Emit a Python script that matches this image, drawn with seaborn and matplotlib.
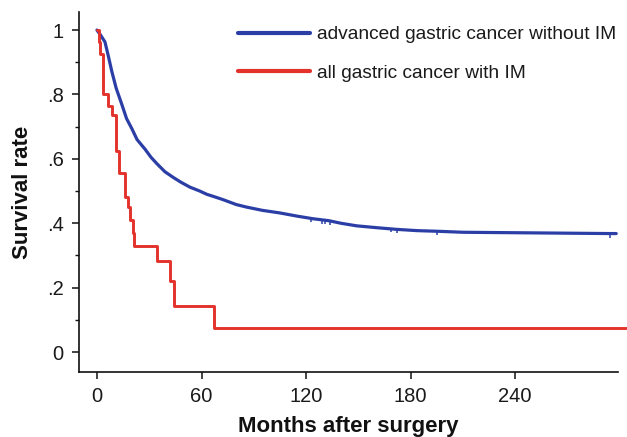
import matplotlib
matplotlib.use("Agg")
import matplotlib.pyplot as plt
from matplotlib.ticker import MultipleLocator, FixedLocator
import seaborn as sns
import pandas as pd

# Kaplan-Meier survival, advanced gastric cancer without IM (months, survival)
blue_months = [0, 2, 4.6, 6.5, 8.6, 11, 14.4, 17, 20.1, 23, 27.6, 31, 34.4, 39,
               43.6, 48, 53.4, 59, 63, 67, 72, 80, 86, 95, 105, 115, 124, 133,
               140, 149, 161, 172, 184, 196, 210, 294.5, 298]
blue_surv = [1.0, 0.985, 0.963, 0.92, 0.87, 0.82, 0.767, 0.725, 0.693, 0.66,
             0.63, 0.605, 0.585, 0.56, 0.543, 0.528, 0.512, 0.50, 0.49, 0.483,
             0.474, 0.458, 0.45, 0.44, 0.432, 0.422, 0.414, 0.408, 0.40, 0.392,
             0.386, 0.381, 0.377, 0.375, 0.372, 0.368, 0.368]
# censored observations on the blue curve
blue_cens_months = [123, 129, 131, 134, 169, 172, 195, 294.5]
blue_cens_surv = [0.415, 0.411, 0.409, 0.407, 0.384, 0.381, 0.375, 0.368]

# Kaplan-Meier survival, all gastric cancer with IM (step times, survival)
red_months = [0, 1.0, 2.0, 3.3, 6.3, 8.6, 11.0, 12.5, 16.0, 17.8, 19.0, 20.5,
              21.5, 34.4, 41.9, 44.2, 67.2, 304]
red_surv = [1.0, 0.963, 0.926, 0.80, 0.764, 0.736, 0.624, 0.556, 0.48, 0.45,
            0.41, 0.37, 0.33, 0.283, 0.22, 0.143, 0.075, 0.075]

labels = ["advanced gastric cancer without IM", "all gastric cancer with IM"]
x_ticks = [0, 60, 120, 180, 240]
y_ticks = [0, 0.2, 0.4, 0.6, 0.8, 1.0]
y_tick_labels = ["0", ".2", ".4", ".6", ".8", "1"]

BLUE = "#2b3ea6"
RED = "#e3322b"

sns.set_theme(style="ticks")
plt.rcParams["font.family"] = ["Liberation Sans", "DejaVu Sans"]

fig = plt.figure(figsize=(6.27, 4.37), dpi=100)
ax = fig.add_axes([0.126, 0.1487, 0.8596, 0.8238])

blue_df = pd.DataFrame({"month": blue_months, "surv": blue_surv})
red_df = pd.DataFrame({"month": red_months, "surv": red_surv})

sns.lineplot(data=blue_df, x="month", y="surv", ax=ax, color=BLUE,
             linewidth=2.3, estimator=None, label=labels[0])
sns.lineplot(data=red_df, x="month", y="surv", ax=ax, color=RED,
             linewidth=2.1, estimator=None, drawstyle="steps-post",
             label=labels[1], clip_on=False)
ax.plot(blue_cens_months, blue_cens_surv, linestyle="none", marker=3,
        markersize=2.6, markeredgewidth=1.1, color=BLUE)

ax.set_xlim(-10.3, 299)
ax.set_ylim(-0.062, 1.056)
ax.xaxis.set_major_locator(FixedLocator(x_ticks))
ax.yaxis.set_major_locator(FixedLocator(y_ticks))
ax.set_yticklabels(y_tick_labels)
ax.yaxis.set_minor_locator(MultipleLocator(0.1))

for s in ["top", "right"]:
    ax.spines[s].set_visible(False)
for s in ["left", "bottom"]:
    ax.spines[s].set_linewidth(1.2)
    ax.spines[s].set_color("#111111")

ax.tick_params(axis="both", which="major", direction="out", length=5,
               width=1.1, color="#111111", labelsize=14.5, labelcolor="#1a1a1a",
               pad=6)
ax.tick_params(axis="y", which="minor", direction="out", length=3, width=1.0,
               color="#111111")

ax.set_xlabel("Months after surgery", fontsize=16, fontweight="bold",
              color="#111111", labelpad=7)
ax.set_ylabel("Survival rate", fontsize=16, fontweight="bold",
              color="#111111", labelpad=10)

leg = ax.legend(loc="upper left", bbox_to_anchor=(0.295, 0.961), frameon=False,
                fontsize=13.8, handlelength=3.75, handletextpad=0.36,
                labelspacing=1.1, borderaxespad=0, borderpad=0)
for line in leg.get_lines():
    line.set_linewidth(3.0)
for t in leg.get_texts():
    t.set_color("#1a1a1a")

fig.savefig("out.png", dpi=100)
